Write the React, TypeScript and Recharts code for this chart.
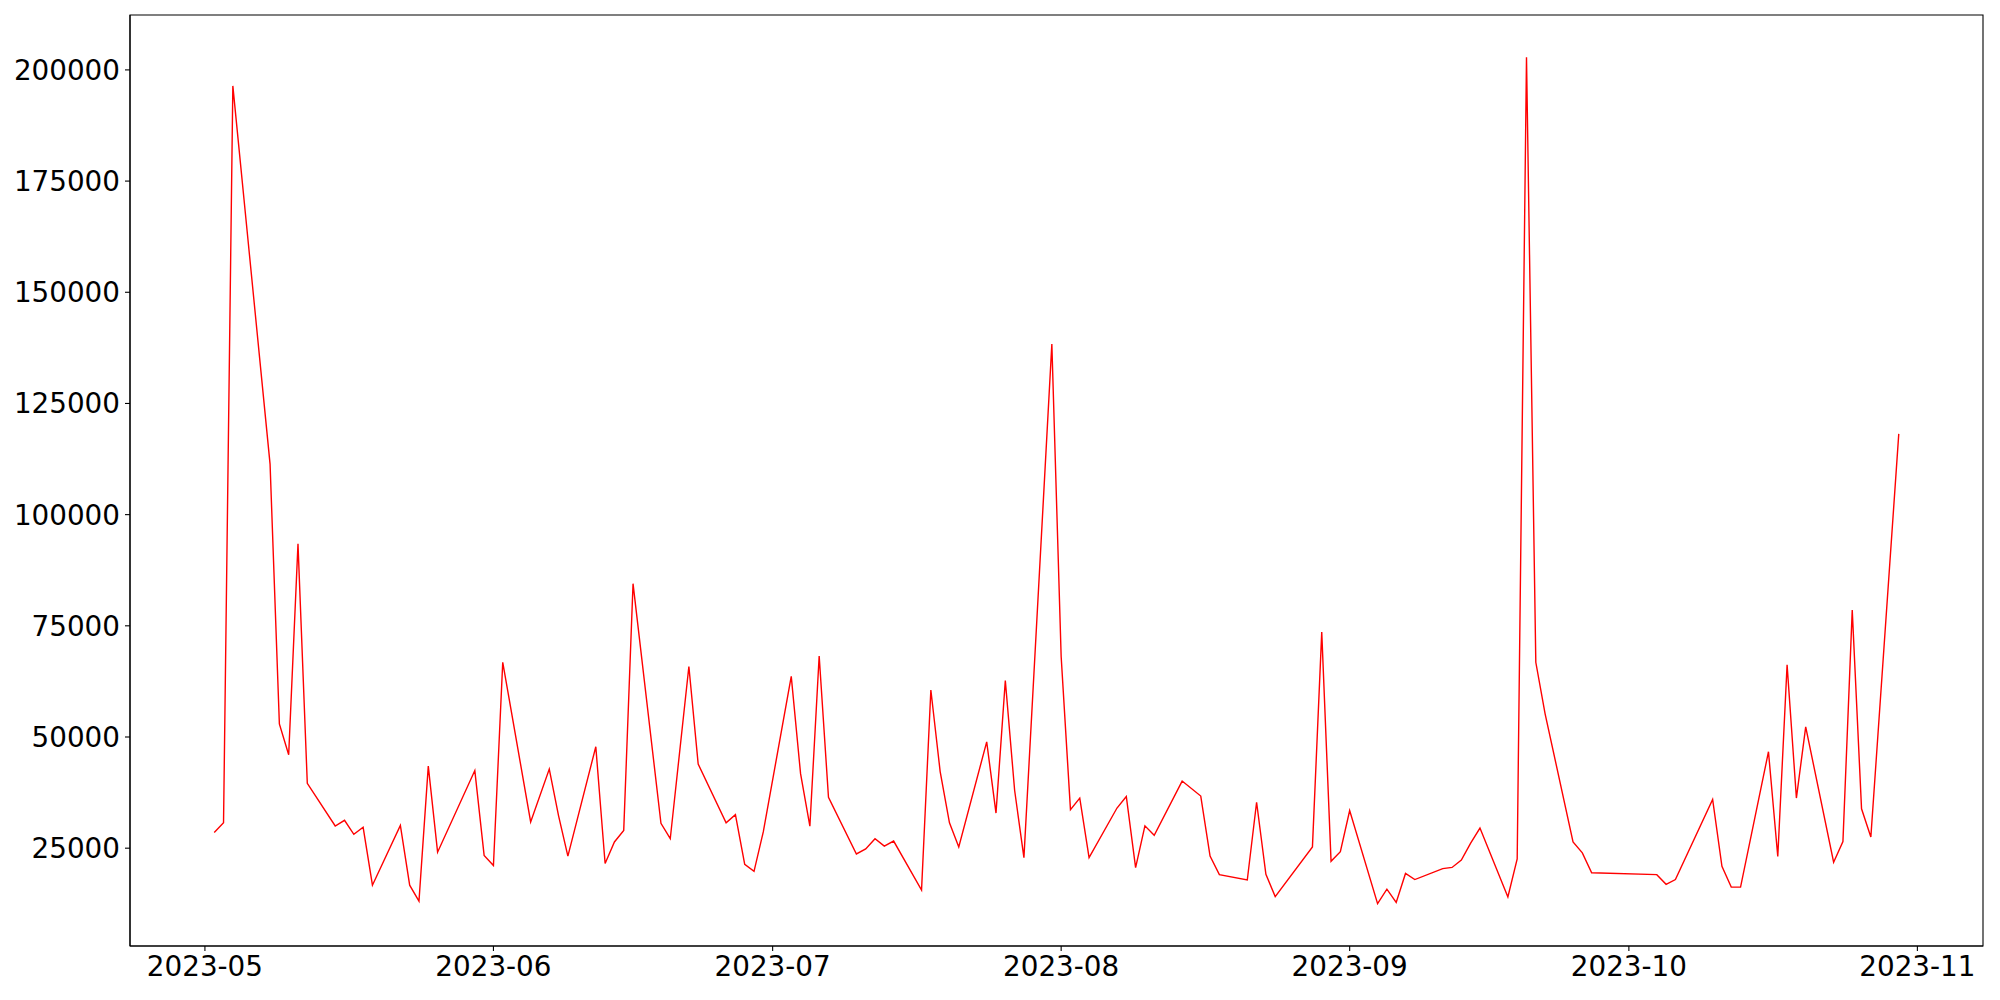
import { LineChart, Line, XAxis, YAxis, ReferenceArea } from 'recharts';

const dates = [
  '2023-05-02', '2023-05-03', '2023-05-04', '2023-05-08', '2023-05-09', '2023-05-10', '2023-05-11', '2023-05-12',
  '2023-05-15', '2023-05-16', '2023-05-17', '2023-05-18', '2023-05-19', '2023-05-22', '2023-05-23', '2023-05-24',
  '2023-05-25', '2023-05-26', '2023-05-30', '2023-05-31', '2023-06-01', '2023-06-02', '2023-06-05', '2023-06-07',
  '2023-06-08', '2023-06-09', '2023-06-12', '2023-06-13', '2023-06-14', '2023-06-15', '2023-06-16', '2023-06-19',
  '2023-06-20', '2023-06-22', '2023-06-23', '2023-06-26', '2023-06-27', '2023-06-28', '2023-06-29', '2023-06-30',
  '2023-07-03', '2023-07-04', '2023-07-05', '2023-07-06', '2023-07-07', '2023-07-10', '2023-07-11', '2023-07-12',
  '2023-07-13', '2023-07-14', '2023-07-17', '2023-07-18', '2023-07-19', '2023-07-20', '2023-07-21', '2023-07-24',
  '2023-07-25', '2023-07-26', '2023-07-27', '2023-07-28', '2023-07-31', '2023-08-01', '2023-08-02', '2023-08-03',
  '2023-08-04', '2023-08-07', '2023-08-08', '2023-08-09', '2023-08-10', '2023-08-11', '2023-08-14', '2023-08-16',
  '2023-08-17', '2023-08-18', '2023-08-21', '2023-08-22', '2023-08-23', '2023-08-24', '2023-08-28', '2023-08-29',
  '2023-08-30', '2023-08-31', '2023-09-01', '2023-09-04', '2023-09-05', '2023-09-06', '2023-09-07', '2023-09-08',
  '2023-09-11', '2023-09-12', '2023-09-13', '2023-09-14', '2023-09-15', '2023-09-18', '2023-09-19', '2023-09-20',
  '2023-09-21', '2023-09-22', '2023-09-25', '2023-09-26', '2023-09-27', '2023-10-04', '2023-10-05', '2023-10-06',
  '2023-10-10', '2023-10-11', '2023-10-12', '2023-10-13', '2023-10-16', '2023-10-17', '2023-10-18', '2023-10-19',
  '2023-10-20', '2023-10-23', '2023-10-24', '2023-10-25', '2023-10-26', '2023-10-27', '2023-10-30',
];

const counts = [
  28550, 30700, 196400, 111350, 52930, 46000, 93430, 39580,
  29990, 31270, 28120, 29700, 16670, 30120, 16670, 13090,
  43450, 24100, 42450, 23380, 21090, 66800, 30900, 42780,
  32280, 23230, 47810, 21570, 26400, 29000, 84470, 30590,
  27130, 65860, 43900, 30690, 32550, 21360, 19800, 28720,
  63620, 41750, 29940, 68200, 36450, 23700, 24830, 27130,
  25470, 26600, 15600, 60570, 42220, 30690, 25290, 48910,
  32900, 62700, 38020, 22870, 138350, 68080, 33670, 36270,
  22870, 34030, 36630, 20620, 30030, 27900, 40090, 36720,
  23230, 19050, 17840, 35330, 19140, 14110, 25290, 73580,
  22040, 24220, 33470, 12520, 15780, 12790, 19320, 17950,
  20400, 20670, 22310, 26130, 29520, 14020, 22580, 202830,
  66800, 55220, 26400, 23950, 19460, 19050, 16870, 17950,
  35950, 20920, 16250, 16250, 46690, 23140, 66220, 36270,
  52280, 21840, 26490, 78530, 33850, 27510, 118150,
];

const monthTicks = ['2023-05', '2023-06', '2023-07', '2023-08', '2023-09', '2023-10', '2023-11'];
const valueTicks = [25000, 50000, 75000, 100000, 125000, 150000, 175000, 200000];

const toTime = (s: string) => Date.parse((s.length === 7 ? s + '-01' : s) + 'T00:00:00Z');

const data = dates.map((d, i) => ({ t: toTime(d), v: counts[i] }));

// matplotlib-style 5% auto margins
const tMin = data[0].t;
const tMax = data[data.length - 1].t;
const xPad = (tMax - tMin) * 0.05;
const vMin = Math.min(...counts);
const vMax = Math.max(...counts);
const yPad = (vMax - vMin) * 0.05;
const xDomain = [tMin - xPad, tMax + xPad];
const yDomain = [vMin - yPad, vMax + yPad];

const tickStyle = { fill: '#000', fontSize: 27.8, fontFamily: 'DejaVu Sans' };
const axisStroke = { stroke: '#000', strokeWidth: 1.1 };

export default function App() {
  return (
    <div style={{ position: 'absolute', left: 0, top: 0, background: '#fff' }}>
      <LineChart width={2000} height={1000} data={data} margin={{ top: 15, right: 17, bottom: 0, left: 0 }}>
        <XAxis
          dataKey="t"
          type="number"
          domain={xDomain}
          allowDataOverflow
          ticks={monthTicks.map(toTime)}
          interval={0}
          tickFormatter={(t: number) => new Date(t).toISOString().slice(0, 7)}
          height={54}
          tickSize={5}
          tickMargin={5}
          tick={tickStyle}
          axisLine={axisStroke}
          tickLine={axisStroke}
        />
        <YAxis
          type="number"
          domain={yDomain}
          allowDataOverflow
          ticks={valueTicks}
          interval={0}
          width={130}
          tickSize={5}
          tickMargin={5}
          tick={tickStyle}
          axisLine={axisStroke}
          tickLine={axisStroke}
        />
        <ReferenceArea
          x1={xDomain[0]}
          x2={xDomain[1]}
          y1={yDomain[0]}
          y2={yDomain[1]}
          fill="none"
          stroke="#000"
          strokeWidth={1.1}
        />
        <Line
          type="linear"
          dataKey="v"
          stroke="#ff0000"
          strokeWidth={1.4}
          dot={false}
          isAnimationActive={false}
        />
      </LineChart>
    </div>
  );
}
